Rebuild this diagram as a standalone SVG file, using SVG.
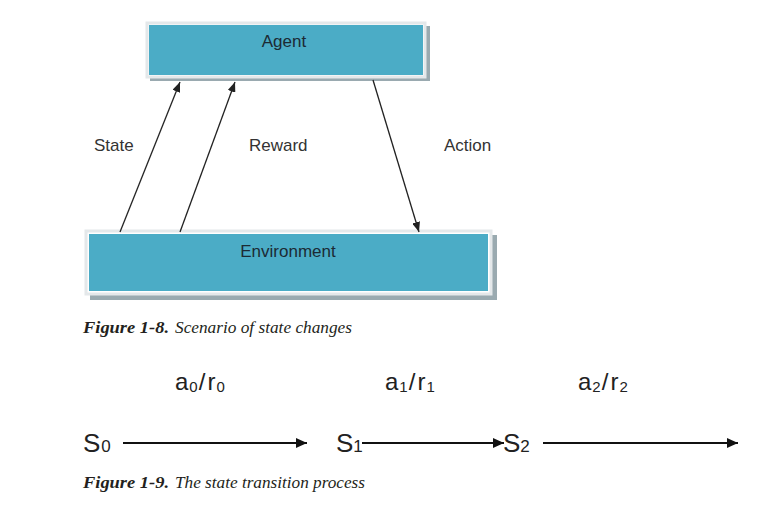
<svg xmlns="http://www.w3.org/2000/svg" width="784" height="513" viewBox="0 0 784 513">
<style>
.shadow{fill:#9aaab0}
.frame{fill:#ffffff;stroke:#e4e8ea;stroke-width:3}
.box{fill:#4bacc6}
.boxtext{font-family:"Liberation Sans",Arial,sans-serif;font-size:17px;fill:#1c2a34;text-anchor:middle}
.lbl{font-family:"Liberation Sans",Arial,sans-serif;font-size:17px;fill:#333333}
.conn{stroke:#222222;stroke-width:1.3;fill:none}
.flow{stroke:#111111;stroke-width:2;fill:none}
.st{font-family:"Liberation Sans",Arial,sans-serif;font-size:26px;fill:#222222}
.sub{font-size:17px}
.tr{font-family:"Liberation Sans",Arial,sans-serif;font-size:24px;fill:#222222}
.trs{font-size:15px}
.cap{font-family:"Liberation Serif","Times New Roman",serif;font-size:16px;font-style:italic;fill:#231f20}
.capb{font-weight:bold}
</style>
<defs>
<marker id="ah" markerUnits="userSpaceOnUse" markerWidth="10" markerHeight="8" refX="10" refY="4" orient="auto">
<path d="M0,0 L10,4 L0,8 Z" fill="#222222"/>
</marker>
<marker id="ah2" markerUnits="userSpaceOnUse" markerWidth="11" markerHeight="10" refX="11" refY="5" orient="auto">
<path d="M0,0 L11,5 L0,10 Z" fill="#111111"/>
</marker>
</defs>
<g id="agent">
<rect class="shadow" x="150" y="26" width="280" height="55"/>
<rect class="frame" x="147" y="23" width="278" height="54"/>
<rect class="box" x="149" y="25" width="274" height="50"/>
<text class="boxtext" x="284" y="47">Agent</text>
</g>
<g id="environment">
<rect class="shadow" x="90" y="235" width="407" height="65"/>
<rect class="frame" x="86" y="231" width="405" height="63"/>
<rect class="box" x="89" y="234" width="399" height="57"/>
<text class="boxtext" x="288" y="257">Environment</text>
</g>
<g id="connectors">
<line class="conn" x1="120" y1="232" x2="180" y2="82" marker-end="url(#ah)"/>
<line class="conn" x1="180" y1="232" x2="235" y2="82" marker-end="url(#ah)"/>
<line class="conn" x1="373" y1="80" x2="419" y2="232" marker-end="url(#ah)"/>
<line class="flow" x1="123" y1="443" x2="307" y2="443" marker-end="url(#ah2)"/>
<line class="flow" x1="362" y1="443" x2="504" y2="443" marker-end="url(#ah2)"/>
<line class="flow" x1="543" y1="443" x2="738" y2="443" marker-end="url(#ah2)"/>
</g>
<g id="labels">
<text class="lbl" x="94" y="151">State</text>
<text class="lbl" x="249" y="151">Reward</text>
<text class="lbl" x="444" y="151">Action</text>
</g>
<g id="states">
<text class="st" x="83" y="452">S<tspan class="sub" dx="1">0</tspan></text>
<text class="st" x="336" y="452">S<tspan class="sub">1</tspan></text>
<text class="st" x="503" y="452">S<tspan class="sub">2</tspan></text>
</g>
<g id="transitions">
<text class="tr" x="175" y="390">a<tspan class="trs" dx="1" dy="2">0</tspan><tspan dx="1" dy="-2">/</tspan><tspan dx="2">r</tspan><tspan class="trs" dx="1" dy="2">0</tspan></text>
<text class="tr" x="385" y="390">a<tspan class="trs" dx="1" dy="2">1</tspan><tspan dx="1" dy="-2">/</tspan><tspan dx="2">r</tspan><tspan class="trs" dx="1" dy="2">1</tspan></text>
<text class="tr" x="578" y="390">a<tspan class="trs" dx="1" dy="2">2</tspan><tspan dx="1" dy="-2">/</tspan><tspan dx="2">r</tspan><tspan class="trs" dx="1" dy="2">2</tspan></text>
</g>
<g id="captions">
<text class="cap capb" x="83" y="333" textLength="86" lengthAdjust="spacingAndGlyphs">Figure 1-8.</text>
<text class="cap" x="175" y="333" textLength="177" lengthAdjust="spacingAndGlyphs">Scenario of state changes</text>
<text class="cap capb" x="83" y="488" textLength="86" lengthAdjust="spacingAndGlyphs">Figure 1-9.</text>
<text class="cap" x="175" y="488" textLength="190" lengthAdjust="spacingAndGlyphs">The state transition process</text>
</g>
</svg>
